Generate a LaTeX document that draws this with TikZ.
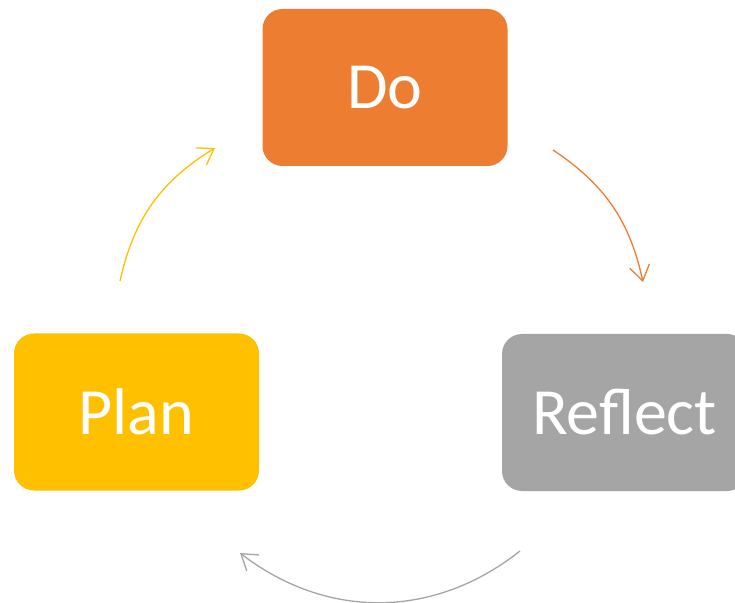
\documentclass[tikz,border=0pt]{standalone}
\usepackage{fontspec}
\setmainfont{Carlito}
\usetikzlibrary{arrows.meta}
\definecolor{cOrange}{HTML}{ED7D31}
\definecolor{cGold}{HTML}{FFC000}
\definecolor{cGray}{HTML}{A5A5A5}
\tikzset{
  stagebox/.style={rectangle, rounded corners=20pt, minimum width=245pt, minimum height=157pt,
    inner sep=0pt, text=white, font=\fontsize{66}{72}\selectfont},
  cyclearrow/.style={line width=1.3pt, -{Straight Barb[length=15pt,width=20pt,line width=1.3pt]}}
}
\begin{document}
\begin{tikzpicture}[x=1pt,y=1pt]
\useasboundingbox (0,0) rectangle (735,602);
\node[stagebox, fill=cOrange] (do) at (385,514.5) {Do};
\node[stagebox, fill=cGold] (plan) at (136.5,190) {Plan};
\node[stagebox, fill=cGray] (reflect) at (624.5,189.5) {Reflect};
\coordinate (a1s) at (120,321);
\coordinate (a1e) at (215,454);
\coordinate (a2s) at (553,452);
\coordinate (a2e) at (643,320);
\coordinate (a3s) at (520,51);
\coordinate (a3e) at (240,49);
\draw[cyclearrow, cGold] (a1s) to[bend left=23] (a1e);
\draw[cyclearrow, cOrange] (a2s) to[bend left=22] (a2e);
\draw[cyclearrow, cGray] (a3s) to[bend left=38] (a3e);
\end{tikzpicture}
\end{document}
